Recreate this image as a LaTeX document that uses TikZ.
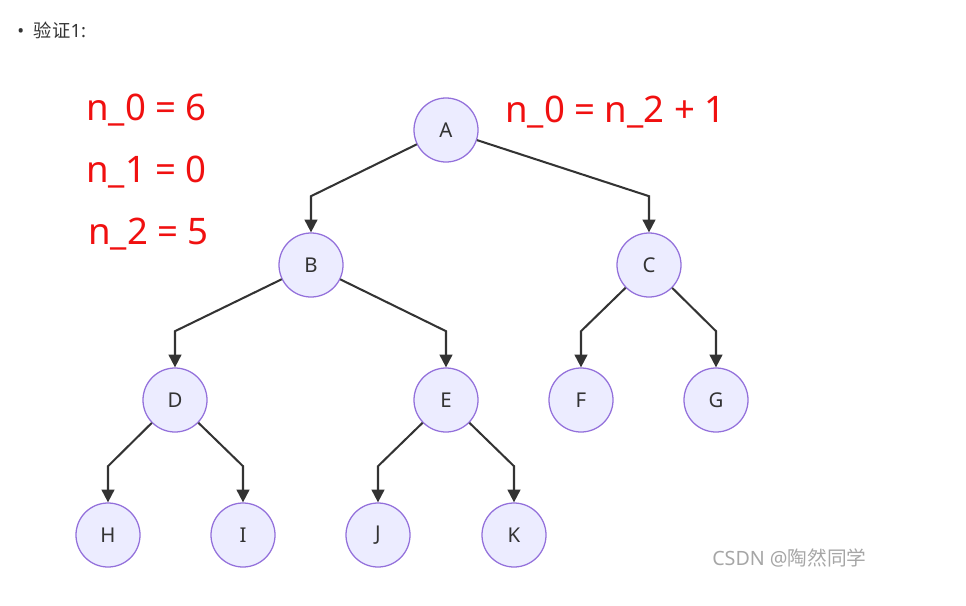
\documentclass[tikz,border=0pt]{standalone}
\usepackage{fontspec}
\setmainfont{Noto Sans}
\newfontfamily\cjk{Noto Sans CJK SC}
\usepackage{xcolor}
\usetikzlibrary{arrows.meta, calc}
\definecolor{nodeFill}{HTML}{ECECFF}
\definecolor{nodeLine}{HTML}{9370DB}
\definecolor{edgeGray}{HTML}{333333}
\definecolor{markRed}{HTML}{F01010}

\begin{document}
\begin{tikzpicture}[
    x=0.025cm, y=-0.025cm,
    treenode/.style={circle, draw=nodeLine, fill=nodeFill, line width=0.9pt, minimum size=1.6cm, inner sep=0pt, text=edgeGray, font=\fontsize{14.5}{14.5}\selectfont},
    flow/.style={draw=edgeGray, line width=1.45pt, -{Triangle[length=3.2mm, width=3.2mm]}},
    formula/.style={text=markRed, font=\fontsize{26}{26}\selectfont, anchor=west, inner sep=0pt}
  ]
    \useasboundingbox (0,0) rectangle (966,605);

    \node[anchor=west, inner sep=0pt, font=\fontsize{13}{13}\selectfont, text=edgeGray] (title) at (17,30) {\textbullet\hspace{7pt}{\cjk 验证}1:};

    \node[treenode] (A) at (446,130) {A};
    \node[treenode] (B) at (311,265) {B};
    \node[treenode] (C) at (649,265) {C};
    \node[treenode] (D) at (175,400) {D};
    \node[treenode] (E) at (446,400) {E};
    \node[treenode] (F) at (581,400) {F};
    \node[treenode] (G) at (716,400) {G};
    \node[treenode] (H) at (108,535) {H};
    \node[treenode] (I) at (243,535) {I};
    \node[treenode] (J) at (378,535) {J};
    \node[treenode] (K) at (514,535) {K};

    \foreach \parent/\child in {A/B, A/C, B/D, B/E, C/F, C/G, D/H, D/I, E/J, E/K}
      \draw[flow] (\parent) -- ([yshift=1.72cm]\child.center) -- (\child);

    \node[formula] (n0) at (86,110) {n\_0 = 6};
    \node[formula] (n1) at (86,172) {n\_1 = 0};
    \node[formula] (n2) at (88,234) {n\_2 = 5};
    \node[formula] (rel) at (505,112) {n\_0 = n\_2 + 1};

    \node[anchor=west, inner sep=0pt, text=black!35, font=\fontsize{14}{14}\selectfont] (mark) at (712,558) {CSDN @{\cjk 陶然同学}};
  \end{tikzpicture}
\end{document}
